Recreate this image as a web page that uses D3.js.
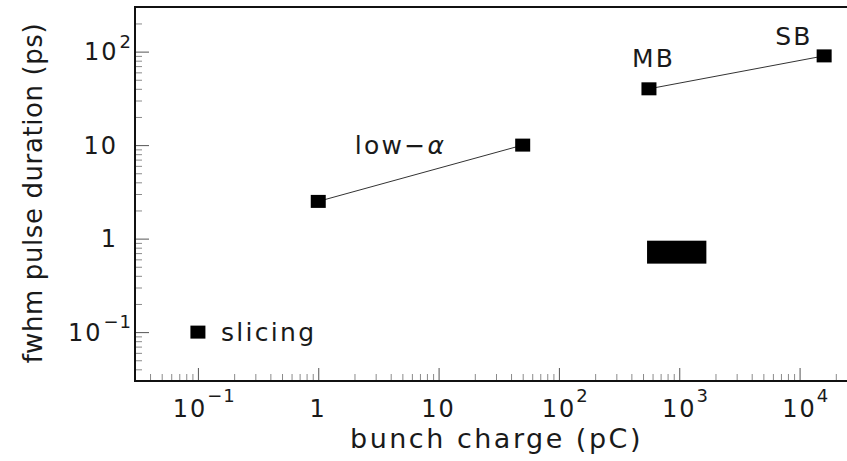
<!DOCTYPE html>
<html>
<head>
<meta charset="utf-8">
<script src="https://cdn.jsdelivr.net/npm/d3@7"></script>
<style>
  body { margin: 0; background: #fff; }
  svg { display: block; }
  text { font-family: "DejaVu Sans", sans-serif; fill: #1a1a1a; }
</style>
</head>
<body>
<svg width="847" height="461"></svg>
<script>
// bunch charge (pC) vs fwhm pulse duration (ps)
var slicingX = [0.1],
    slicingY = [0.1];
var lowAlphaX = [1, 50],
    lowAlphaY = [2.5, 10];
var mbSbX = [560, 16000],
    mbSbY = [40, 90];
// filled box (charge range x duration range)
var boxX = [540, 1680],
    boxY = [0.54, 0.95];

var labelText = ["slicing", "low\u2212\u03b1", "MB", "SB"],
    labelAtX  = [0.1, 50, 560, 16000],
    labelAtY  = [0.1, 10, 40, 90];

var xTicks    = [0.1, 1, 10, 100, 1000, 10000],
    xTickBase = ["10", "1", "10", "10", "10", "10"],
    xTickExp  = ["\u22121", "", "", "2", "3", "4"];
var yTicks    = [0.1, 1, 10, 100],
    yTickBase = ["10", "1", "10", "10"],
    yTickExp  = ["\u22121", "", "", "2"];

function main(){
    var svg = d3.select("svg");
    var left = 135, right = 857, top = 7, bottom = 381;

    var xScale = d3.scaleLog().domain([0.03, 30000]).range([left, right]),
        yScale = d3.scaleLog().domain([0.03, 300]).range([bottom, top]);

    var isDecade = function(v){ return Math.abs(Math.log10(v) - Math.round(Math.log10(v))) < 1e-6; };
    var xMinor = xScale.ticks().filter(function(v){ return !isDecade(v); }),
        yMinor = yScale.ticks().filter(function(v){ return !isDecade(v); });

    // minor ticks
    svg.append("g")
        .attr("class", "minor")
        .attr("transform", "translate(0," + bottom + ")")
        .call(d3.axisBottom(xScale).tickValues(xMinor).tickSize(-7).tickFormat(""));
    svg.append("g")
        .attr("class", "minor")
        .attr("transform", "translate(" + left + ",0)")
        .call(d3.axisLeft(yScale).tickValues(yMinor).tickSize(-7).tickFormat(""));

    // major ticks
    svg.append("g")
        .attr("class", "major")
        .attr("transform", "translate(0," + bottom + ")")
        .call(d3.axisBottom(xScale).tickValues(xTicks).tickSize(-13).tickFormat(""));
    svg.append("g")
        .attr("class", "major")
        .attr("transform", "translate(" + left + ",0)")
        .call(d3.axisLeft(yScale).tickValues(yTicks).tickSize(-14).tickFormat(""));

    svg.selectAll(".minor .domain, .major .domain").remove();
    svg.selectAll(".minor line").attr("stroke", "#8a8a8a");
    svg.selectAll(".major line").attr("stroke", "#555");

    // frame (right side is cut off by the picture edge)
    svg.append("path")
        .attr("d", "M" + right + "," + top + "H" + left + "V" + bottom + "H" + right)
        .attr("fill", "none")
        .attr("stroke", "#111")
        .attr("stroke-width", 2);

    // x tick labels
    xTicks.forEach(function(v, i){
        var cx = xScale(v) + (xTickExp[i].charAt(0) == "\u2212" ? -8 : 0);
        var t = svg.append("text")
            .attr("x", cx)
            .attr("y", 417)
            .attr("text-anchor", "middle")
            .attr("font-size", 24)
            .attr("letter-spacing", 2)
            .text(xTickBase[i]);
        if (xTickExp[i]) {
            var bb = t.node().getBBox();
            svg.append("text")
                .attr("x", bb.x + bb.width)
                .attr("y", 402)
                .attr("font-size", 18)
                .attr("letter-spacing", 1)
                .text(xTickExp[i]);
        }
    });

    // y tick labels
    yTicks.forEach(function(v, i){
        var y = yScale(v);
        if (yTickExp[i]) {
            var e = svg.append("text")
                .attr("x", left - 3)
                .attr("y", y - 4)
                .attr("text-anchor", "end")
                .attr("font-size", 18)
                .attr("letter-spacing", 1)
                .text(yTickExp[i]);
            var bb = e.node().getBBox();
            svg.append("text")
                .attr("x", bb.x - 1)
                .attr("y", y + 8.5)
                .attr("text-anchor", "end")
                .attr("font-size", 24)
                .attr("letter-spacing", 2)
                .text(yTickBase[i]);
        } else {
            svg.append("text")
                .attr("x", left - 17)
                .attr("y", y + 8.5)
                .attr("text-anchor", "end")
                .attr("font-size", 24)
                .attr("letter-spacing", 2)
                .text(yTickBase[i]);
        }
    });

    // axis titles
    svg.append("text")
        .attr("x", 350)
        .attr("y", 448)
        .attr("font-size", 27)
        .attr("letter-spacing", 2.5)
        .text("bunch charge (pC)");

    svg.append("text")
        .attr("transform", "translate(42,193) rotate(-90)")
        .attr("text-anchor", "middle")
        .attr("font-size", 26)
        .attr("letter-spacing", 0.6)
        .text("fwhm pulse duration (ps)");

    // connecting lines
    var line = d3.line()
        .x(function(d){ return xScale(d[0]); })
        .y(function(d){ return yScale(d[1]); });

    [[lowAlphaX, lowAlphaY], [mbSbX, mbSbY]].forEach(function(s){
        svg.append("path")
            .datum(d3.zip(s[0], s[1]))
            .attr("d", line)
            .attr("fill", "none")
            .attr("stroke", "#333")
            .attr("stroke-width", 1);
    });

    // box
    svg.append("rect")
        .attr("x", xScale(boxX[0]))
        .attr("y", yScale(boxY[1]))
        .attr("width", xScale(boxX[1]) - xScale(boxX[0]))
        .attr("height", yScale(boxY[0]) - yScale(boxY[1]))
        .attr("fill", "#000");

    // square markers
    var pts = d3.zip(slicingX.concat(lowAlphaX, mbSbX), slicingY.concat(lowAlphaY, mbSbY));
    svg.selectAll(".pt")
        .data(pts)
        .enter().append("rect")
        .attr("class", "pt")
        .attr("x", function(d){ return xScale(d[0]) - 7.5; })
        .attr("y", function(d){ return yScale(d[1]) - 6.5; })
        .attr("width", 15)
        .attr("height", 13)
        .attr("fill", "#000");

    // labels, offset from their anchor point
    var dx = [23, -168, -17, -49],
        dy = [9, 9, -22, -11];
    labelText.forEach(function(s, i){
        var t = svg.append("text")
            .attr("x", xScale(labelAtX[i]) + dx[i])
            .attr("y", yScale(labelAtY[i]) + dy[i])
            .attr("font-size", 25)
            .attr("letter-spacing", 2.3);
        if (s.slice(-1) == "\u03b1") {
            t.append("tspan").text(s.slice(0, -1));
            t.append("tspan").attr("font-style", "italic").text(s.slice(-1));
        } else {
            t.text(s);
        }
    });
}
main();
</script>
</body>
</html>
